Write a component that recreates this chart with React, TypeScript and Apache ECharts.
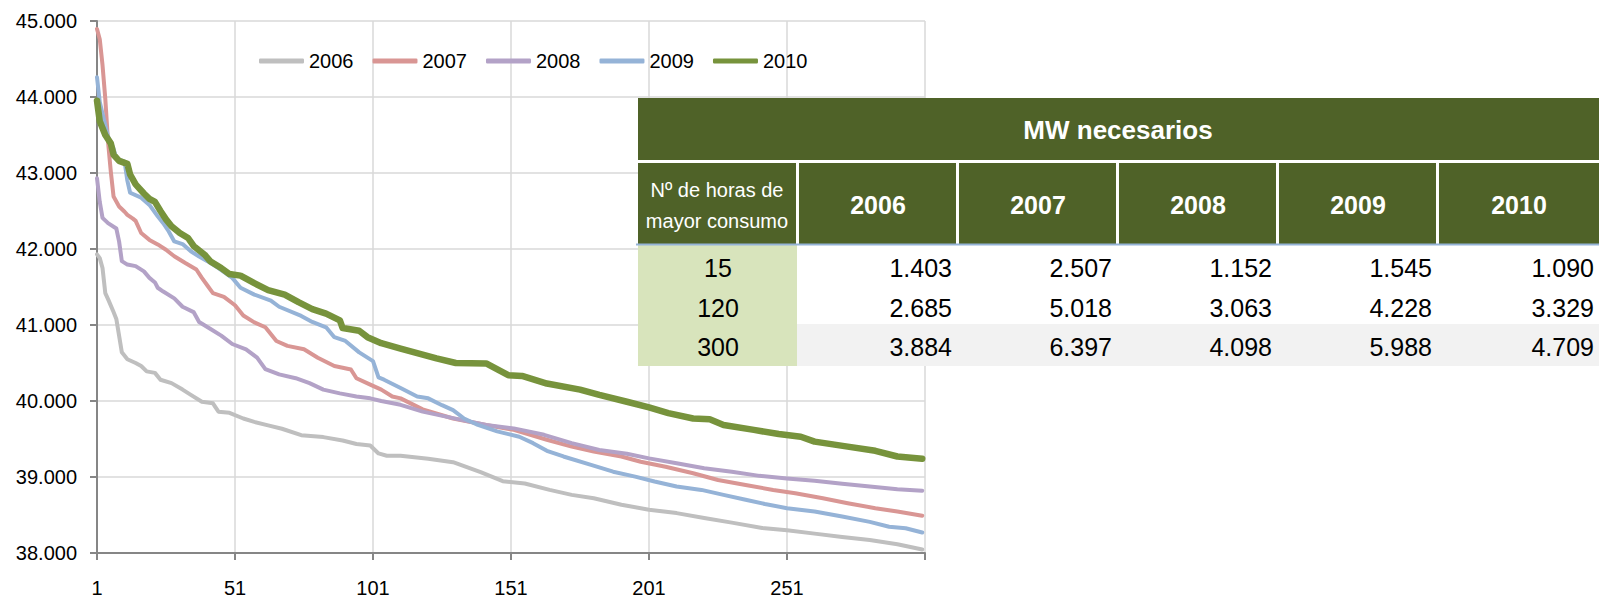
import React, { useEffect, useRef } from "react";
import * as echarts from "echarts";

// ---------- DATA ----------
const years = ["2006", "2007", "2008", "2009", "2010"];

// [hour, MW]
const s2006 = [
  [1, 41930], [2, 41880], [3, 41750], [4, 41420], [5, 41340], [7, 41170], [8, 41080], [9, 40860], [10, 40640], [12, 40550],
  [15, 40500], [17, 40460], [19, 40390], [22, 40370], [24, 40280], [28, 40235], [32, 40150], [35, 40080], [39, 39990], [43, 39970],
  [45, 39860], [49, 39845], [54, 39770], [58, 39725], [63, 39680], [68, 39635], [75, 39550], [83, 39525], [90, 39480], [95, 39435],
  [100, 39415], [103, 39310], [106, 39280], [111, 39280], [121, 39240], [130, 39195], [140, 39065], [148, 38945], [156, 38915], [165, 38830],
  [173, 38765], [181, 38720], [191, 38635], [201, 38570], [211, 38525], [221, 38460], [231, 38400], [242, 38330], [251, 38300], [261, 38255],
  [271, 38210], [281, 38170], [291, 38115], [300, 38045],
];
const s2007 = [
  [1, 44895], [2, 44760], [3, 44420], [4, 43980], [5, 43410], [6, 43020], [7, 42690], [9, 42560], [11, 42490], [12, 42450],
  [14, 42400], [15, 42370], [17, 42210], [20, 42120], [23, 42060], [26, 41990], [29, 41905], [33, 41815], [37, 41730], [39, 41620],
  [41, 41520], [43, 41420], [47, 41370], [51, 41260], [54, 41125], [58, 41035], [62, 40970], [66, 40790], [70, 40725], [76, 40680],
  [81, 40570], [87, 40460], [93, 40415], [95, 40300], [100, 40215], [104, 40150], [108, 40060], [111, 40035], [119, 39890], [130, 39770],
  [142, 39685], [152, 39620], [164, 39490], [173, 39400], [181, 39335], [191, 39270], [198, 39200], [207, 39135], [217, 39050], [226, 38960],
  [236, 38895], [246, 38830], [254, 38785], [264, 38720], [273, 38655], [283, 38590], [291, 38545], [300, 38490],
];
const s2008 = [
  [1, 42930], [2, 42620], [3, 42410], [5, 42340], [8, 42270], [9, 42100], [10, 41840], [12, 41795], [15, 41775], [18, 41705],
  [20, 41620], [22, 41560], [23, 41490], [25, 41440], [29, 41350], [32, 41240], [36, 41170], [38, 41040], [42, 40950], [46, 40860],
  [50, 40750], [55, 40680], [59, 40570], [62, 40420], [67, 40350], [73, 40300], [78, 40235], [83, 40150], [89, 40100], [95, 40060],
  [100, 40035], [104, 40000], [111, 39950], [119, 39860], [130, 39775], [142, 39685], [152, 39640], [163, 39555], [173, 39445], [183, 39355],
  [193, 39305], [201, 39245], [211, 39180], [221, 39115], [231, 39070], [241, 39015], [251, 38980], [261, 38950], [271, 38910], [281, 38875],
  [291, 38840], [300, 38820],
];
const s2009 = [
  [1, 44260], [2, 43935], [4, 43630], [5, 43480], [7, 43320], [8, 43190], [11, 43150], [12, 42900], [13, 42740], [17, 42675],
  [20, 42580], [23, 42430], [25, 42340], [27, 42230], [29, 42100], [32, 42065], [35, 41970], [38, 41900], [41, 41840], [45, 41750],
  [50, 41620], [53, 41490], [58, 41400], [64, 41320], [67, 41240], [75, 41120], [79, 41040], [84, 40970], [87, 40840], [91, 40790],
  [96, 40640], [101, 40525], [103, 40310], [105, 40280], [111, 40170], [117, 40060], [121, 40035], [126, 39945], [130, 39880], [134, 39770],
  [139, 39685], [146, 39600], [154, 39530], [159, 39445], [164, 39345], [170, 39270], [180, 39160], [188, 39070], [196, 39005], [203, 38940],
  [211, 38875], [220, 38830], [228, 38765], [236, 38700], [243, 38645], [251, 38590], [261, 38545], [271, 38480], [281, 38410], [288, 38345],
  [294, 38325], [300, 38270],
];
const s2010 = [
  [1, 43950], [2, 43680], [4, 43500], [6, 43390], [7, 43240], [9, 43160], [12, 43120], [13, 42980], [15, 42850], [18, 42730],
  [20, 42660], [22, 42620], [24, 42500], [26, 42390], [28, 42300], [31, 42210], [34, 42145], [36, 42040], [40, 41925], [42, 41840],
  [46, 41750], [49, 41670], [53, 41650], [58, 41550], [63, 41460], [69, 41400], [74, 41300], [79, 41210], [84, 41150], [89, 41060],
  [90, 40960], [96, 40925], [99, 40840], [104, 40760], [111, 40690], [124, 40560], [131, 40500], [142, 40495], [150, 40340], [155, 40330],
  [164, 40230], [176, 40150], [183, 40080], [193, 39990], [201, 39915], [208, 39840], [217, 39770], [223, 39760], [228, 39685], [239, 39620],
  [248, 39565], [256, 39530], [261, 39465], [273, 39400], [283, 39345], [291, 39270], [300, 39240],
];
const seriesData = [s2006, s2007, s2008, s2009, s2010];

// Table: "MW necesarios"
const tableTitle = "MW necesarios";
const tableHeaderFirst = ["Nº de horas de", "mayor consumo"];
const tableHours = [15, 120, 300];
const mw2006 = [1403, 2685, 3884];
const mw2007 = [2507, 5018, 6397];
const mw2008 = [1152, 3063, 4098];
const mw2009 = [1545, 4228, 5988];
const mw2010 = [1090, 3329, 4709];
const tableCols = [mw2006, mw2007, mw2008, mw2009, mw2010];

// ---------- STYLE ----------
const colors = ["#bfbfbf", "#d99694", "#b3a2c7", "#95b3d7", "#77933c"];
const widths = [4, 4, 4, 4, 6.5];
const FONT = "Liberation Sans";

const fmtThousands = (v: number) => {
  const k = Math.floor(v / 1000);
  const r = Math.round(v % 1000);
  return k > 0 ? `${k}.${String(r).padStart(3, "0")}` : String(r);
};

function buildTable() {
  const els: any[] = [];
  const L = 638, R = 1599;
  const colX = [638, 797, 957, 1117, 1277, 1437, 1599];
  const seps = [796, 956, 1116, 1276, 1436];
  const green = "#4f6228";
  const z = 100;
  els.push({ type: "rect", z, shape: { x: L, y: 98, width: R - L, height: 268 }, style: { fill: "#ffffff" } });
  els.push({ type: "rect", z, shape: { x: L, y: 98, width: R - L, height: 62 }, style: { fill: green } });
  els.push({ type: "rect", z, shape: { x: L, y: 163, width: R - L, height: 81 }, style: { fill: green } });
  seps.forEach((sx) => {
    els.push({ type: "rect", z: z + 1, shape: { x: sx, y: 163, width: 3, height: 81 }, style: { fill: "#ffffff" } });
  });
  els.push({ type: "rect", z, shape: { x: L, y: 245, width: 159, height: 121 }, style: { fill: "#d8e4bc" } });
  els.push({ type: "rect", z, shape: { x: 797, y: 324, width: R - 797, height: 42 }, style: { fill: "#f2f2f2" } });
  els.push({ type: "line", z: z + 2, shape: { x1: 636, y1: 244.5, x2: R, y2: 244.5 }, style: { stroke: "#95b3d7", lineWidth: 2 } });

  els.push({
    type: "text", z: z + 3, x: 1118, y: 130,
    style: { text: tableTitle, fill: "#ffffff", fontSize: 26, fontWeight: "bold", fontFamily: FONT, textAlign: "center", textVerticalAlign: "middle" },
  });
  tableHeaderFirst.forEach((t, i) => {
    els.push({
      type: "text", z: z + 3, x: 717, y: 190 + i * 31,
      style: { text: t, fill: "#ffffff", fontSize: 20, fontFamily: FONT, textAlign: "center", textVerticalAlign: "middle" },
    });
  });
  years.forEach((y, i) => {
    const cx = (colX[i + 1] + colX[i + 2]) / 2 + 1;
    els.push({
      type: "text", z: z + 3, x: cx, y: 205,
      style: { text: y, fill: "#ffffff", fontSize: 25, fontWeight: "bold", fontFamily: FONT, textAlign: "center", textVerticalAlign: "middle" },
    });
  });
  const rowY = [268, 308, 347];
  tableHours.forEach((h, r) => {
    els.push({
      type: "text", z: z + 3, x: 718, y: rowY[r],
      style: { text: String(h), fill: "#000000", fontSize: 25, fontFamily: FONT, textAlign: "center", textVerticalAlign: "middle" },
    });
    tableCols.forEach((col, c) => {
      els.push({
        type: "text", z: z + 3, x: colX[c + 2] - 5, y: rowY[r],
        style: { text: fmtThousands(col[r]), fill: "#000000", fontSize: 25, fontFamily: FONT, textAlign: "right", textVerticalAlign: "middle" },
      });
    });
  });
  return els;
}

export default function App() {
  const ref = useRef<HTMLDivElement>(null);
  useEffect(() => {
    if (!ref.current) return;
    const chart = echarts.init(ref.current, undefined, { renderer: "svg" });
    const axisLineStyle = { color: "#868686", width: 2 };
    chart.setOption({
      animation: false,
      backgroundColor: "#ffffff",
      grid: { left: 97, right: 674, top: 21, bottom: 46, containLabel: false },
      legend: {
        left: 254,
        top: 46,
        icon: "roundRect",
        itemWidth: 45,
        itemHeight: 5,
        itemGap: 19,
        textStyle: { fontSize: 20, color: "#000000", fontFamily: FONT },
        data: years,
      },
      xAxis: {
        type: "value",
        min: 0,
        max: 300,
        interval: 50,
        axisLine: { show: true, onZero: false, lineStyle: axisLineStyle },
        axisTick: { show: true, length: 7, lineStyle: axisLineStyle },
        axisLabel: {
          margin: 25,
          fontSize: 20,
          color: "#000000",
          fontFamily: FONT,
          formatter: (v: number) => (v >= 300 ? "" : String(v + 1)),
        },
        splitLine: { show: true, lineStyle: { color: "#d9d9d9", width: 1.5 } },
      },
      yAxis: {
        type: "value",
        min: 38000,
        max: 45000,
        interval: 1000,
        axisLine: { show: true, onZero: false, lineStyle: axisLineStyle },
        axisTick: { show: true, length: 7, lineStyle: axisLineStyle },
        axisLabel: {
          margin: 20,
          fontSize: 20,
          color: "#000000",
          fontFamily: FONT,
          formatter: (v: number) => fmtThousands(v),
        },
        splitLine: { show: true, lineStyle: { color: "#d9d9d9", width: 1.5 } },
      },
      series: seriesData.map((d, i) => ({
        name: years[i],
        type: "line",
        showSymbol: false,
        symbol: "none",
        color: colors[i],
        z: 2 + i,
        lineStyle: { color: colors[i], width: widths[i], cap: "round", join: "round" },
        data: d.map(([h, v]) => [h - 1, v]),
      })),
      graphic: buildTable(),
    });
    return () => chart.dispose();
  }, []);
  return <div ref={ref} style={{ position: "absolute", left: 0, top: 0, width: 1599, height: 599 }} />;
}
